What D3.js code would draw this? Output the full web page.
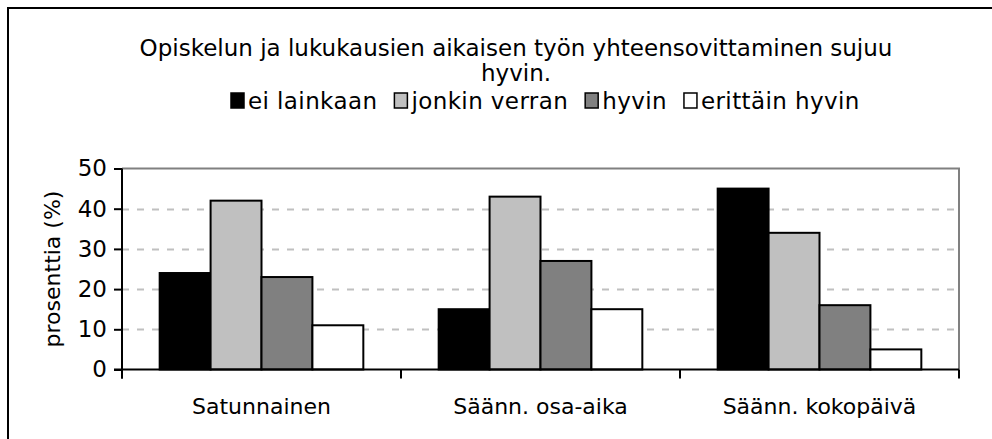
<!DOCTYPE html>
<html><head><meta charset="utf-8">
<script src="https://cdn.jsdelivr.net/npm/d3@7"></script>
<style>body{margin:0;background:#fff}svg{display:block}text{font-family:"DejaVu Sans",sans-serif;fill:#000}</style>
</head><body>
<svg id="c" width="992" height="439"></svg>
<script>
const categories = ["Satunnainen", "Säänn. osa-aika", "Säänn. kokopäivä"];
const seriesNames = ["ei lainkaan", "jonkin verran", "hyvin", "erittäin hyvin"];
const eiLainkaan = [24, 15, 45];
const jonkinVerran = [42, 43, 34];
const hyvin = [23, 27, 16];
const erittainHyvin = [11, 15, 5];
const seriesColors = ["#000000", "#c0c0c0", "#808080", "#ffffff"];
const yTicks = [0, 10, 20, 30, 40, 50];
const titleLines = ["Opiskelun ja lukukausien aikaisen työn yhteensovittaminen sujuu", "hyvin."];
const yTitle = "prosenttia (%)";

const seriesValues = [eiLainkaan, jonkinVerran, hyvin, erittainHyvin];
const svg = d3.select("#c");

// outer frame
svg.append("rect").attr("x", 8).attr("y", 8).attr("width", 1000).attr("height", 1000)
  .attr("fill", "none").attr("stroke", "#000").attr("stroke-width", 2);

const L = 122, R = 959, T = 168.5, B = 369.5;
const x0 = d3.scaleBand().domain(categories).range([L, R]).paddingInner(0).paddingOuter(0);
const x1 = d3.scaleBand().domain(d3.range(4)).range([0, x0.bandwidth()]).paddingInner(0).paddingOuter(0.74);
const y = d3.scaleLinear().domain([0, 50]).range([B, T]);

// gridlines
svg.append("g").selectAll("line").data(yTicks.filter(t => t > 0 && t < 50)).join("line")
  .attr("x1", L).attr("x2", R).attr("y1", d => Math.round(y(d)) + 0.5).attr("y2", d => Math.round(y(d)) + 0.5)
  .attr("stroke", "#c0c0c0").attr("stroke-width", 2).attr("stroke-dasharray", "7,8");
// plot border top/right
svg.append("path").attr("d", `M${L},${T}H${R}V${B}`).attr("fill", "none").attr("stroke", "#808080").attr("stroke-width", 2);

// bars
const groups = svg.append("g").selectAll("g").data(categories).join("g")
  .attr("transform", d => `translate(${x0(d)},0)`);
groups.selectAll("rect").data((d, i) => seriesValues.map((s, k) => ({k, v: s[i]}))).join("rect")
  .attr("x", d => x1(d.k)).attr("width", x1.bandwidth())
  .attr("y", d => y(d.v)).attr("height", d => y(0) - y(d.v))
  .attr("fill", d => seriesColors[d.k]).attr("stroke", "#000").attr("stroke-width", 2);

// y axis
const yAxis = d3.axisLeft(y).tickValues(yTicks).tickSize(8).tickPadding(7);
const ga = svg.append("g").attr("transform", `translate(${L},0)`).call(yAxis);
ga.select(".domain").attr("stroke", "#000").attr("stroke-width", 2).attr("d", `M0,${T}V${B+9}`);
ga.selectAll(".tick line").attr("stroke", "#000").attr("stroke-width", 2);
ga.selectAll("text").style("font-family", "DejaVu Sans").style("font-size", "23px").attr("fill", "#000");

// x axis
const gx = svg.append("g").attr("transform", `translate(0,${B})`);
gx.append("line").attr("x1", L - 8).attr("x2", R).attr("y1", 0).attr("y2", 0).attr("stroke", "#000").attr("stroke-width", 2);
const bounds = categories.map(c => x0(c)).concat([R]);
gx.selectAll("line.t").data(bounds).join("line").attr("class", "t")
  .attr("x1", d => d).attr("x2", d => d).attr("y1", 0).attr("y2", 9).attr("stroke", "#000").attr("stroke-width", 2);
gx.selectAll("text").data(categories).join("text")
  .attr("x", d => x0(d) + x0.bandwidth() / 2).attr("y", 44.5).attr("text-anchor", "middle")
  .style("font-size", "22px").text(d => d);

// y title
svg.append("text").attr("transform", `translate(60,${(T + B) / 2}) rotate(-90)`)
  .attr("text-anchor", "middle").style("font-size", "22px").text(yTitle);

// title
svg.append("g").selectAll("text").data(titleLines).join("text")
  .attr("x", 516).attr("y", (d, i) => 56 + i * 25).attr("text-anchor", "middle")
  .style("font-size", "23px").text(d => d);

// legend
const lg = svg.append("g");
const items = [];
let lx = 231;
const tmp = svg.append("text").style("font-size", "23px").style("letter-spacing", "0.4px");
seriesNames.forEach((n, i) => {
  tmp.text(n);
  const w = tmp.node().getComputedTextLength();
  items.push({n, i, x: lx});
  lx += 17 + w + 17;
});
tmp.remove();
const li = lg.selectAll("g").data(items).join("g").attr("transform", d => `translate(${d.x},0)`);
li.append("rect").attr("x", 0).attr("y", 93).attr("width", 13).attr("height", 15)
  .attr("fill", d => seriesColors[d.i]).attr("stroke", "#000").attr("stroke-width", 1.5);
li.append("text").attr("x", 17).attr("y", 109).style("font-size", "23px").style("letter-spacing", "0.4px").text(d => d.n);
</script>
</body></html>
